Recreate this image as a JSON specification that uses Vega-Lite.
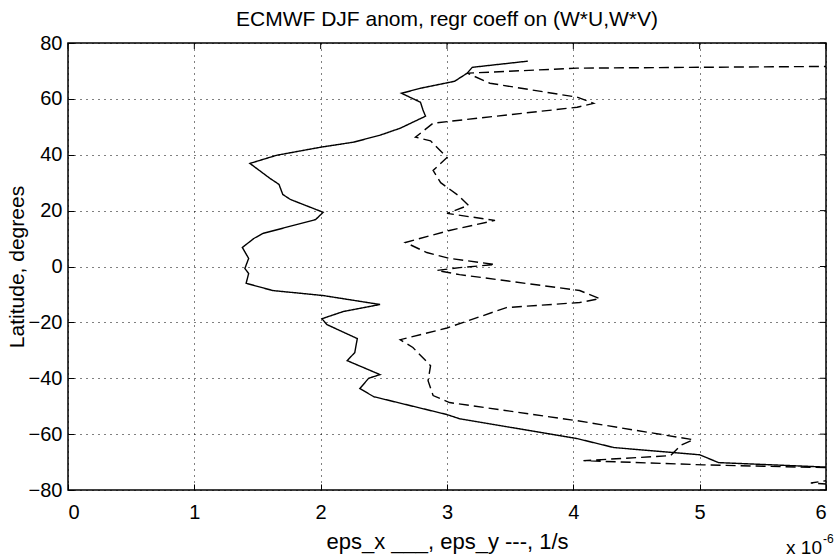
{
  "$schema": "https://vega.github.io/schema/vega-lite/v6.json",
  "width": 758,
  "height": 447,
  "autosize": {"type": "none"},
  "padding": {"left": 68, "top": 43, "right": 12, "bottom": 70},
  "background": "white",
  "title": {"text": "ECMWF DJF anom, regr coeff on (W*U,W*V)", "font": "Liberation Sans", "fontSize": 21, "fontWeight": "normal", "color": "black", "offset": 3},
  "config": {
    "view": {"stroke": "black", "strokeWidth": 1.5},
    "axis": {
      "labelFont": "Liberation Sans", "labelFontSize": 20, "labelColor": "black",
      "titleFont": "Liberation Sans", "titleFontSize": 22, "titleFontWeight": "normal", "titleColor": "black",
      "domain": false, "tickColor": "black", "tickSize": -6, "tickWidth": 1,
      "gridColor": "black", "gridDash": [1, 5], "gridWidth": 1, "gridOpacity": 1
    }
  },
  "datasets": {
    "lines": [
      {"series": "eps_x", "i": 1, "eps": 3.64, "lat": 73.5},
      {"series": "eps_x", "i": 2, "eps": 3.2, "lat": 71.3},
      {"series": "eps_x", "i": 3, "eps": 3.16, "lat": 69.2},
      {"series": "eps_x", "i": 4, "eps": 3.06, "lat": 66.3},
      {"series": "eps_x", "i": 5, "eps": 2.79, "lat": 63.8},
      {"series": "eps_x", "i": 6, "eps": 2.64, "lat": 62},
      {"series": "eps_x", "i": 7, "eps": 2.79, "lat": 58.8},
      {"series": "eps_x", "i": 8, "eps": 2.81, "lat": 56},
      {"series": "eps_x", "i": 9, "eps": 2.83, "lat": 53.8},
      {"series": "eps_x", "i": 10, "eps": 2.63, "lat": 49.5},
      {"series": "eps_x", "i": 11, "eps": 2.47, "lat": 47},
      {"series": "eps_x", "i": 12, "eps": 2.26, "lat": 44.5},
      {"series": "eps_x", "i": 13, "eps": 2.0, "lat": 42.7},
      {"series": "eps_x", "i": 14, "eps": 1.65, "lat": 39.8},
      {"series": "eps_x", "i": 15, "eps": 1.44, "lat": 36.9},
      {"series": "eps_x", "i": 16, "eps": 1.6, "lat": 31.5},
      {"series": "eps_x", "i": 17, "eps": 1.67, "lat": 29.4},
      {"series": "eps_x", "i": 18, "eps": 1.7, "lat": 25.8},
      {"series": "eps_x", "i": 19, "eps": 1.76, "lat": 24},
      {"series": "eps_x", "i": 20, "eps": 2.02, "lat": 19.4},
      {"series": "eps_x", "i": 21, "eps": 1.96, "lat": 16.8},
      {"series": "eps_x", "i": 22, "eps": 1.54, "lat": 11.8},
      {"series": "eps_x", "i": 23, "eps": 1.47, "lat": 10},
      {"series": "eps_x", "i": 24, "eps": 1.38, "lat": 6.8},
      {"series": "eps_x", "i": 25, "eps": 1.43, "lat": 2.9},
      {"series": "eps_x", "i": 26, "eps": 1.4, "lat": -0.7},
      {"series": "eps_x", "i": 27, "eps": 1.43, "lat": -2.5},
      {"series": "eps_x", "i": 28, "eps": 1.41, "lat": -6},
      {"series": "eps_x", "i": 29, "eps": 1.62, "lat": -8.6},
      {"series": "eps_x", "i": 30, "eps": 2.02, "lat": -10.4},
      {"series": "eps_x", "i": 31, "eps": 2.47, "lat": -13.6},
      {"series": "eps_x", "i": 32, "eps": 2.18, "lat": -16.1},
      {"series": "eps_x", "i": 33, "eps": 2.01, "lat": -18.7},
      {"series": "eps_x", "i": 34, "eps": 2.05, "lat": -20.8},
      {"series": "eps_x", "i": 35, "eps": 2.29, "lat": -25.8},
      {"series": "eps_x", "i": 36, "eps": 2.27, "lat": -30.8},
      {"series": "eps_x", "i": 37, "eps": 2.21, "lat": -33.7},
      {"series": "eps_x", "i": 38, "eps": 2.47, "lat": -38.7},
      {"series": "eps_x", "i": 39, "eps": 2.38, "lat": -40},
      {"series": "eps_x", "i": 40, "eps": 2.31, "lat": -43.7},
      {"series": "eps_x", "i": 41, "eps": 2.42, "lat": -46.6},
      {"series": "eps_x", "i": 42, "eps": 3.0, "lat": -53},
      {"series": "eps_x", "i": 43, "eps": 3.1, "lat": -54.5},
      {"series": "eps_x", "i": 44, "eps": 4.03, "lat": -61.6},
      {"series": "eps_x", "i": 45, "eps": 4.32, "lat": -64.8},
      {"series": "eps_x", "i": 46, "eps": 5.0, "lat": -67.4},
      {"series": "eps_x", "i": 47, "eps": 5.15, "lat": -70.2},
      {"series": "eps_x", "i": 48, "eps": 6.0, "lat": -71.8},
      {"series": "eps_y", "i": 1, "eps": 6.3, "lat": 71.7},
      {"series": "eps_y", "i": 2, "eps": 4.03, "lat": 71.0},
      {"series": "eps_y", "i": 3, "eps": 3.16, "lat": 69.2},
      {"series": "eps_y", "i": 4, "eps": 3.34, "lat": 65.6},
      {"series": "eps_y", "i": 5, "eps": 4.03, "lat": 60.6},
      {"series": "eps_y", "i": 6, "eps": 4.16, "lat": 58.4},
      {"series": "eps_y", "i": 7, "eps": 4.03, "lat": 57},
      {"series": "eps_y", "i": 8, "eps": 2.89, "lat": 51.3},
      {"series": "eps_y", "i": 9, "eps": 2.75, "lat": 46.3},
      {"series": "eps_y", "i": 10, "eps": 2.87, "lat": 45},
      {"series": "eps_y", "i": 11, "eps": 3.0, "lat": 39},
      {"series": "eps_y", "i": 12, "eps": 2.89, "lat": 34.4},
      {"series": "eps_y", "i": 13, "eps": 2.95, "lat": 30},
      {"series": "eps_y", "i": 14, "eps": 3.09, "lat": 25.4},
      {"series": "eps_y", "i": 15, "eps": 3.17, "lat": 21.9},
      {"series": "eps_y", "i": 16, "eps": 3.0, "lat": 19},
      {"series": "eps_y", "i": 17, "eps": 3.38, "lat": 16.5},
      {"series": "eps_y", "i": 18, "eps": 3.02, "lat": 12.9},
      {"series": "eps_y", "i": 19, "eps": 2.67, "lat": 8.6},
      {"series": "eps_y", "i": 20, "eps": 2.84, "lat": 5},
      {"series": "eps_y", "i": 21, "eps": 3.02, "lat": 2.9},
      {"series": "eps_y", "i": 22, "eps": 3.38, "lat": 0.7},
      {"series": "eps_y", "i": 23, "eps": 3.1, "lat": -0.4},
      {"series": "eps_y", "i": 24, "eps": 2.92, "lat": -1.4},
      {"series": "eps_y", "i": 25, "eps": 3.1, "lat": -2.9},
      {"series": "eps_y", "i": 26, "eps": 4.05, "lat": -8.6},
      {"series": "eps_y", "i": 27, "eps": 4.21, "lat": -11.5},
      {"series": "eps_y", "i": 28, "eps": 4.05, "lat": -12.9},
      {"series": "eps_y", "i": 29, "eps": 3.47, "lat": -14.7},
      {"series": "eps_y", "i": 30, "eps": 3.13, "lat": -20},
      {"series": "eps_y", "i": 31, "eps": 3.0, "lat": -22},
      {"series": "eps_y", "i": 32, "eps": 2.63, "lat": -26.2},
      {"series": "eps_y", "i": 33, "eps": 2.73, "lat": -29},
      {"series": "eps_y", "i": 34, "eps": 2.87, "lat": -35.5},
      {"series": "eps_y", "i": 35, "eps": 2.85, "lat": -40.9},
      {"series": "eps_y", "i": 36, "eps": 2.89, "lat": -46.2},
      {"series": "eps_y", "i": 37, "eps": 3.02, "lat": -48.7},
      {"series": "eps_y", "i": 38, "eps": 4.03, "lat": -55.2},
      {"series": "eps_y", "i": 39, "eps": 4.95, "lat": -62},
      {"series": "eps_y", "i": 40, "eps": 4.85, "lat": -64},
      {"series": "eps_y", "i": 41, "eps": 4.77, "lat": -67.7},
      {"series": "eps_y", "i": 42, "eps": 4.08, "lat": -69.5},
      {"series": "eps_y", "i": 43, "eps": 5.03, "lat": -71},
      {"series": "eps_y", "i": 44, "eps": 6.0, "lat": -72},
      {"series": "eps_y", "i": 45, "eps": 6.4, "lat": -74},
      {"series": "eps_y", "i": 46, "eps": 5.88, "lat": -77.5},
      {"series": "eps_y", "i": 47, "eps": 6.4, "lat": -79}
    ],
    "xticks": [{"v": 0}, {"v": 1}, {"v": 2}, {"v": 3}, {"v": 4}, {"v": 5}, {"v": 6}],
    "yticks": [{"v": -80}, {"v": -60}, {"v": -40}, {"v": -20}, {"v": 0}, {"v": 20}, {"v": 40}, {"v": 60}, {"v": 80}],
    "note": [{"t": "x 10", "e": "-6"}]
  },
  "layer": [
    {
      "data": {"name": "lines"},
      "mark": {"type": "line", "clip": true, "color": "black", "strokeWidth": 1.4},
      "encoding": {
        "x": {"field": "eps", "type": "quantitative", "scale": {"domain": [0, 6], "nice": false, "zero": false},
              "axis": {"title": "eps_x ___, eps_y ---, 1/s", "values": [0, 1, 2, 3, 4, 5, 6], "format": "d", "grid": true, "labelPadding": 18, "titlePadding": 9}},
        "y": {"field": "lat", "type": "quantitative", "scale": {"domain": [-80, 80], "nice": false, "zero": false},
              "axis": {"title": "Latitude, degrees", "titleFontSize": 21, "values": [-80, -60, -40, -20, 0, 20, 40, 60, 80], "grid": true, "labelPadding": 12, "titlePadding": 1}},
        "order": {"field": "i", "type": "quantitative"},
        "strokeDash": {"field": "series", "type": "nominal", "scale": {"domain": ["eps_x", "eps_y"], "range": [[1, 0], [10, 5]]}, "legend": null}
      }
    },
    {
      "data": {"name": "xticks"},
      "mark": {"type": "rule", "color": "black", "strokeWidth": 1},
      "encoding": {"x": {"field": "v", "type": "quantitative"}, "y": {"datum": 80}, "y2": {"datum": 77.85}}
    },
    {
      "data": {"name": "yticks"},
      "mark": {"type": "rule", "color": "black", "strokeWidth": 1},
      "encoding": {"y": {"field": "v", "type": "quantitative"}, "x": {"datum": 6}, "x2": {"datum": 5.952}}
    },
    {
      "data": {"name": "note"},
      "mark": {"type": "text", "font": "Liberation Sans", "fontSize": 19, "align": "right", "baseline": "middle", "dx": -4, "dy": 58, "color": "black"},
      "encoding": {"x": {"datum": 6}, "y": {"datum": -80}, "text": {"field": "t"}}
    },
    {
      "data": {"name": "note"},
      "mark": {"type": "text", "font": "Liberation Sans", "fontSize": 12, "align": "left", "baseline": "middle", "dx": -3, "dy": 49, "color": "black"},
      "encoding": {"x": {"datum": 6}, "y": {"datum": -80}, "text": {"field": "e"}}
    }
  ]
}
